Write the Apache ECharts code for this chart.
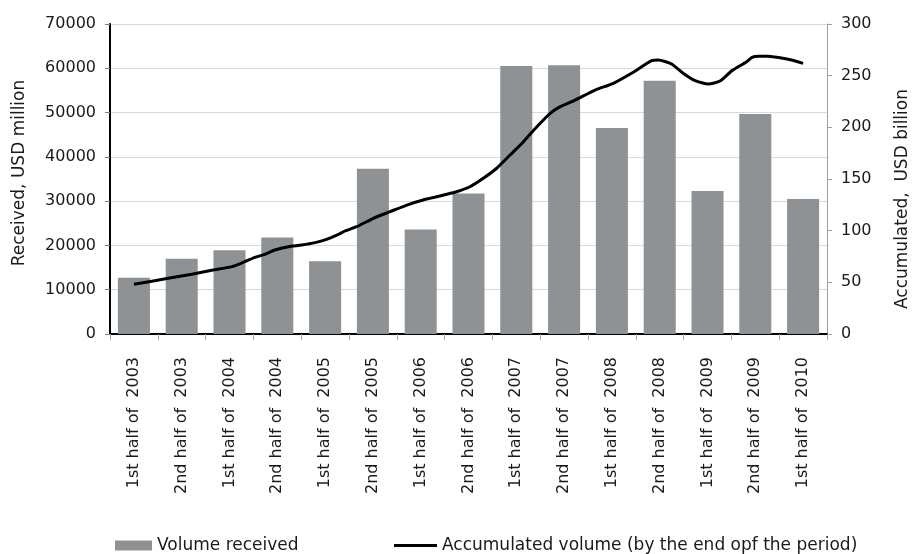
<!DOCTYPE html>
<html>
<head>
<meta charset="utf-8">
<script src="https://cdn.jsdelivr.net/npm/echarts@6/dist/echarts.min.js"></script>
<style>
  html, body { margin: 0; padding: 0; background: #fff; }
  #chart { width: 921px; height: 554px; }
</style>
</head>
<body>
<div id="chart"></div>
<script>
// Half-year periods
const periods = [
  '1st half of  2003', '2nd half of  2003',
  '1st half of  2004', '2nd half of  2004',
  '1st half of  2005', '2nd half of  2005',
  '1st half of  2006', '2nd half of  2006',
  '1st half of  2007', '2nd half of  2007',
  '1st half of  2008', '2nd half of  2008',
  '1st half of  2009', '2nd half of  2009',
  '1st half of  2010'
];

// Volume received per period, USD million
const received = [12700, 17000, 18900, 21800, 16400, 37300, 23600, 31700,
                  60500, 60700, 46500, 57200, 32300, 49700, 30500];

// Accumulated volume, USD billion, sampled along the period scale
// (0 = 1st half of 2003, 14 = 1st half of 2010)
const accPeriod = [0, 0.72, 1.21, 1.63, 2.05, 2.32, 2.53, 2.74, 2.95, 3.23,
                   3.51, 3.79, 4.03, 4.28, 4.42, 4.66, 5.01, 5.36, 5.71, 6.05,
                   6.40, 6.75, 7.03, 7.31, 7.59, 7.87, 8.15, 8.43, 8.71, 8.92,
                   9.23, 9.65, 10.03, 10.41, 10.83, 10.97, 11.25, 11.49, 11.74, 12.02,
                   12.26, 12.51, 12.82, 12.93, 13.06, 13.27, 13.69, 14.0];
const accVolume = [48.1, 53.9, 57.8, 61.6, 65.2, 70.0, 74.2, 77.1, 81.3, 84.5,
                   86.1, 88.4, 91.6, 96.5, 99.7, 103.8, 112.0, 118.4, 124.8, 129.7,
                   133.5, 137.7, 142.5, 150.7, 160.4, 173.2, 186.1, 200.6, 213.6, 220.0,
                   226.4, 236.1, 242.6, 252.3, 264.5, 265.2, 261.3, 252.3, 245.1, 241.9,
                   244.8, 254.8, 263.5, 267.7, 268.9, 268.7, 265.8, 261.9];

// Axis ticks
const leftTicks = { min: 0, max: 70000, interval: 10000 };
const rightTicks = { min: 0, max: 300, interval: 50 };

const nameBar = 'Volume received';
const nameLine = 'Accumulated volume (by the end opf the period)';

const FONT = 'DejaVu Sans';
const TXT = '#1a1a1a';
const plain = v => String(v);

const chart = echarts.init(document.getElementById('chart'), null, { renderer: 'canvas' });

chart.setOption({
  animation: false,
  backgroundColor: '#ffffff',
  textStyle: { fontFamily: FONT, color: TXT },
  grid: { left: 110, right: 94, top: 24, bottom: 220, containLabel: false },
  legend: [
    {
      data: [nameBar],
      left: 110, top: 532,
      itemWidth: 37, itemHeight: 10,
      icon: 'rect',
      textStyle: { fontFamily: FONT, fontSize: 17, color: TXT }
    },
    {
      data: [nameLine],
      left: 389, top: 532,
      itemWidth: 43, itemHeight: 3,
      icon: 'rect',
      textStyle: { fontFamily: FONT, fontSize: 17, color: TXT }
    }
  ],
  xAxis: [
    {
      type: 'category',
      data: periods,
      boundaryGap: true,
      axisLine: { show: true, onZero: false, lineStyle: { color: '#000', width: 2 } },
      axisTick: { show: true, interval: 0, length: 6, lineStyle: { color: '#a6a6a6' } },
      axisLabel: {
        interval: 0, rotate: 90, margin: 23,
        fontFamily: FONT, fontSize: 16, color: TXT
      },
      splitLine: { show: false }
    },
    {
      type: 'value',
      min: -0.5, max: 14.5,
      show: false
    }
  ],
  yAxis: [
    {
      type: 'value',
      position: 'left',
      min: leftTicks.min, max: leftTicks.max, interval: leftTicks.interval,
      axisLine: { show: true, onZero: false, lineStyle: { color: '#000', width: 2 } },
      axisTick: { show: true, length: 5, lineStyle: { color: '#7f7f7f' } },
      axisLabel: { margin: 14, fontFamily: FONT, fontSize: 16, color: TXT, formatter: plain },
      splitLine: { show: true, lineStyle: { color: '#d9d9d9', width: 1 } }
    },
    {
      type: 'value',
      position: 'right',
      min: rightTicks.min, max: rightTicks.max, interval: rightTicks.interval,
      axisLine: { show: true, onZero: false, lineStyle: { color: '#a0a0a0', width: 1 } },
      axisTick: { show: true, length: 5, lineStyle: { color: '#a0a0a0' } },
      axisLabel: { margin: 14, fontFamily: FONT, fontSize: 16, color: TXT, formatter: plain },
      splitLine: { show: false }
    }
  ],
  graphic: [
    {
      type: 'text',
      x: 20, y: 173,
      rotation: Math.PI / 2,
      style: {
        text: 'Received, USD million',
        font: '17px "DejaVu Sans"',
        fill: TXT,
        align: 'center',
        verticalAlign: 'middle'
      }
    },
    {
      type: 'text',
      x: 903, y: 199,
      rotation: Math.PI / 2,
      style: {
        text: 'Accumulated,  USD billion',
        font: '17px "DejaVu Sans"',
        fill: TXT,
        align: 'center',
        verticalAlign: 'middle'
      }
    }
  ],
  series: [
    {
      name: nameBar,
      type: 'bar',
      xAxisIndex: 0,
      yAxisIndex: 0,
      data: received,
      barCategoryGap: '33%',
      itemStyle: { color: '#8e9295' }
    },
    {
      name: nameLine,
      type: 'line',
      xAxisIndex: 1,
      yAxisIndex: 1,
      data: accPeriod.map((p, i) => [p, accVolume[i]]),
      symbol: 'none',
      smooth: 0.2,
      lineStyle: { color: '#000', width: 3 },
      itemStyle: { color: '#000' },
      z: 5
    }
  ]
});
</script>
</body>
</html>
